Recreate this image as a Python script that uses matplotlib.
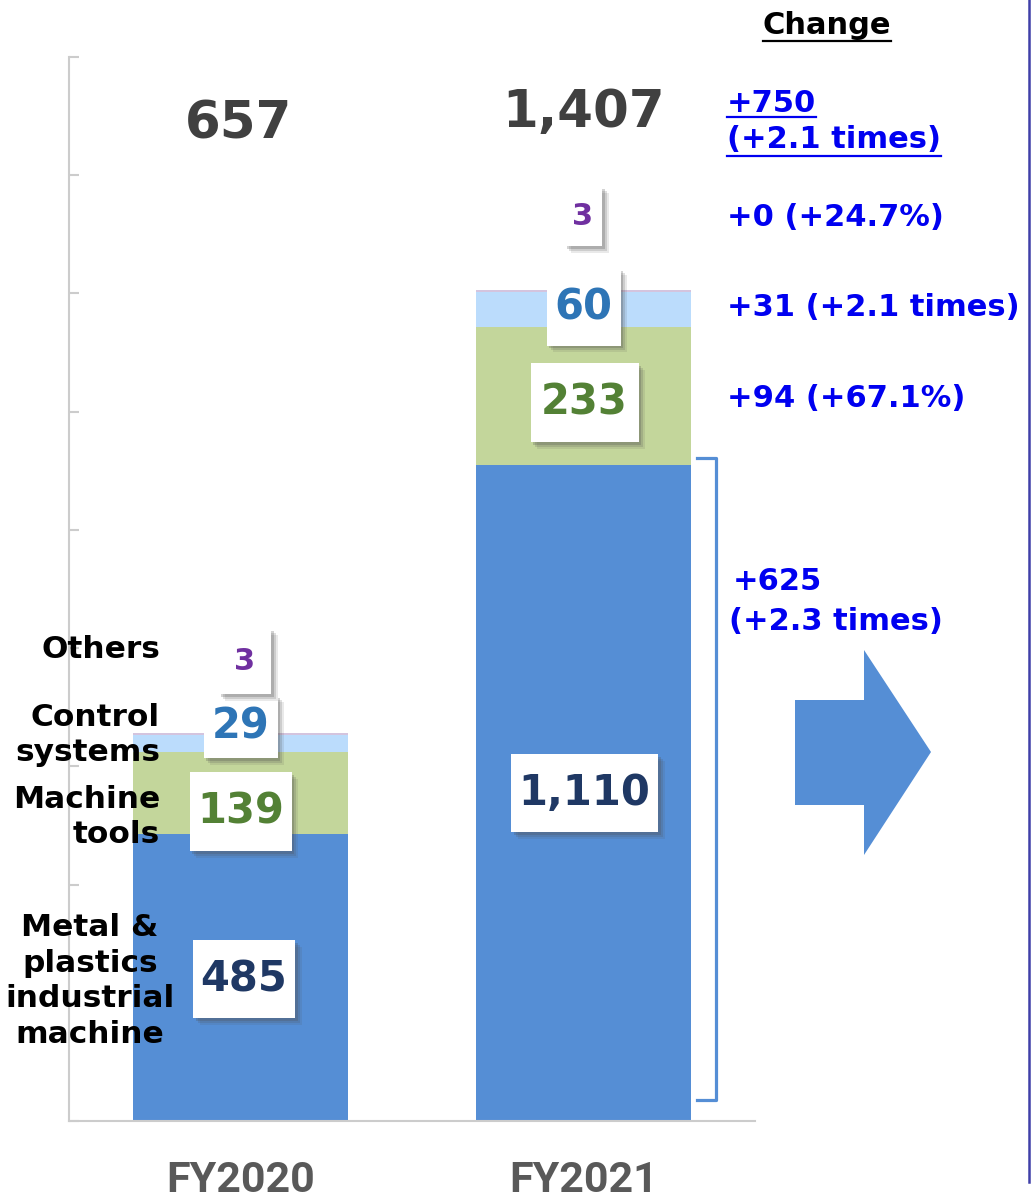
import matplotlib.pyplot as plt
import matplotlib.patheffects as pe
from matplotlib.patches import Rectangle, Polygon
from matplotlib.lines import Line2D
from matplotlib.transforms import IdentityTransform

W, H = 1031, 1202

# sales by segment (100 million yen)
years = ['FY2020', 'FY2021']
metal = [485, 1110]
machine_tools = [139, 233]
control = [29, 60]
others = [3, 3]
totals = [657, 1407]

segment_names = ['Metal &\nplastics\nindustrial\nmachine', 'Machine\ntools',
                 'Control\nsystems', 'Others']
change_total = ['+750', '(+2.1 times)']
change_others = '+0 (+24.7%)'
change_control = '+31 (+2.1 times)'
change_tools = '+94 (+67.1%)'
change_metal = ['+625', '(+2.3 times)']

c_metal = '#558ED5'
c_tools = '#C3D69B'
c_control = '#BBDCFC'
c_others = '#D4C4DE'
blue_txt = '#0000F0'

plt.rcParams['font.family'] = ['DejaVu Sans']
plt.rcParams['font.weight'] = 'bold'

fig = plt.figure(figsize=(W / 100, H / 100), dpi=100)


def fx(px):
    return px / W


def fy(py):
    return 1 - py / H


ax = fig.add_axes([fx(69), fy(1121), fx(755) - fx(69), fy(57) - fy(1121)])
ax.set_xlim(-0.5, 1.5)
ax.set_ylim(0, 1800)

x = [0, 1]
bw = 0.624
b1 = metal
b2 = [a + b for a, b in zip(metal, machine_tools)]
b3 = [a + b for a, b in zip(b2, control)]
ax.bar(x, metal, bw, color=c_metal, zorder=2)
ax.bar(x, machine_tools, bw, bottom=b1, color=c_tools, zorder=2)
ax.bar(x, control, bw, bottom=b2, color=c_control, zorder=2)
ax.bar(x, others, bw, bottom=b3, color=c_others, zorder=2)

for s in ['top', 'right']:
    ax.spines[s].set_visible(False)
for s in ['left', 'bottom']:
    ax.spines[s].set_color('#CCCCCC')
    ax.spines[s].set_linewidth(1.5)
ax.set_yticks(range(0, 1801, 200))
ax.tick_params(axis='y', direction='in', length=7, width=1.5, color='#CCCCCC',
               labelleft=False)
ax.set_xticks(x, years)
ax.tick_params(axis='x', length=0, pad=28, labelsize=31, labelcolor='#595959')
for t in ax.get_xticklabels():
    t.set_fontfamily('Roboto')
    t.set_fontweight('bold')
    t.set_fontstretch('condensed')

# px -> data scale
sx = 2.0 / (755 - 69)
sy = 1800 / (1121 - 57)


def value_box(xc, yc, w_px, h_px, label, color, size):
    w, h = w_px * sx, h_px * sy
    r = Rectangle((xc - w / 2, yc - h / 2), w, h, facecolor='white',
                  edgecolor='none', zorder=4)
    r.set_path_effects([
        pe.SimplePatchShadow(offset=(5, -5), shadow_rgbFace='#505050', alpha=0.12),
        pe.SimplePatchShadow(offset=(3.5, -3.5), shadow_rgbFace='#505050', alpha=0.18),
        pe.SimplePatchShadow(offset=(2, -2), shadow_rgbFace='#505050', alpha=0.25),
        pe.Normal()])
    ax.add_patch(r)
    ax.text(xc, yc, label, ha='center', va='center', color=color,
            fontsize=size, fontweight='bold', zorder=5)


c_dark = '#1F3864'
c_green = '#538135'
c_blue = '#2E75B6'
c_purple = '#7030A0'

# FY2020 value boxes
value_box(0.01, metal[0] / 2 - 3, 102, 78, f'{metal[0]:,}', c_dark, 30)
value_box(0.0, 523, 102, 79, f'{machine_tools[0]:,}', c_green, 30)
value_box(0.0, 667, 74, 63, f'{control[0]:,}', c_blue, 30)
value_box(0.013, 778, 53, 66, f'{others[0]:,}', c_purple, 22)
# FY2021 value boxes
value_box(1.003, metal[1] / 2, 147, 78, f'{metal[1]:,}', c_dark, 30)
value_box(1.003, 1215, 108, 79, f'{machine_tools[1]:,}', c_green, 30)
value_box(1.0, 1377, 74, 77, f'{control[1]:,}', c_blue, 30)
value_box(0.998, 1531, 38, 60, f'{others[1]:,}', c_purple, 22)

# totals
ax.text(-0.006, 1685, f'{totals[0]:,}', ha='center', va='center',
        fontsize=37, color='#404040', clip_on=False)
ax.text(1.0, 1706, f'{totals[1]:,}', ha='center', va='center',
        fontsize=37, color='#404040', clip_on=False)

# bracket around the FY2021 metal segment
bx0, bx1 = 1.332, 1.385
ax.plot([bx0, bx1, bx1, bx0], [1122, 1122, 35, 35], color=c_metal, lw=2.3,
        solid_joinstyle='round', clip_on=False, zorder=3)

# segment names on the left
fs_name = 22.5
fig.text(fx(160), fy(649), segment_names[3], ha='right', va='center',
         fontsize=fs_name)
fig.text(fx(160), fy(735), segment_names[2], ha='right', va='center',
         fontsize=fs_name, linespacing=1.3)
fig.text(fx(160), fy(817), segment_names[1], ha='right', va='center',
         fontsize=fs_name, linespacing=1.3)
fig.text(fx(90), fy(981), segment_names[0], ha='center', va='center',
         fontsize=fs_name, linespacing=1.3)

# change column
fs_chg = 22
t_head = fig.text(fx(827), fy(25), 'Change', ha='center', va='center', fontsize=22,
                  color='black')
t750 = fig.text(fx(727), fy(103), change_total[0], ha='left', va='center',
                fontsize=fs_chg, color=blue_txt)
t21 = fig.text(fx(727), fy(140), change_total[1], ha='left', va='center',
               fontsize=fs_chg, color=blue_txt)
fig.text(fx(727), fy(217), change_others, ha='left', va='center', fontsize=fs_chg,
         color=blue_txt)
fig.text(fx(727), fy(308), change_control, ha='left', va='center', fontsize=fs_chg,
         color=blue_txt)
fig.text(fx(727), fy(399), change_tools, ha='left', va='center', fontsize=fs_chg,
         color=blue_txt)
fig.text(fx(733), fy(582), change_metal[0], ha='left', va='center', fontsize=fs_chg,
         color=blue_txt)
fig.text(fx(729), fy(621), change_metal[1], ha='left', va='center', fontsize=fs_chg,
         color=blue_txt)

# underline the heading and the total change
fig.canvas.draw()
renderer = fig.canvas.get_renderer()
for t, under_y, col in [(t_head, 41, 'black'), (t750, 117, blue_txt),
                        (t21, 156, blue_txt)]:
    bb = t.get_window_extent(renderer)
    fig.add_artist(Line2D([bb.x0, bb.x1], [H - under_y, H - under_y], color=col,
                          lw=1.6, transform=IdentityTransform()))

# arrow to the right
arrow = [(795, 700), (864, 700), (864, 650), (931, 752), (864, 855),
         (864, 805), (795, 805)]
fig.add_artist(Polygon([(fx(a), fy(b)) for a, b in arrow], closed=True,
                       facecolor=c_metal, edgecolor='none',
                       transform=fig.transFigure))

# frame line at the right edge
fig.add_artist(Line2D([fx(1029), fx(1029)], [fy(0), fy(1182)], color='#3F3FA8',
                      lw=1.8, transform=fig.transFigure))

fig.savefig('out.png', dpi=100)
